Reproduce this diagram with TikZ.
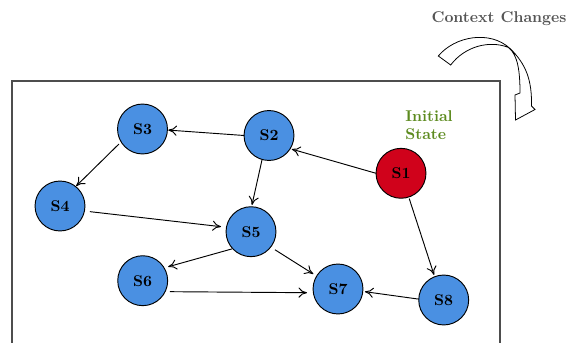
\documentclass[tikz,border=0pt]{standalone}
\usetikzlibrary{arrows.meta}
\definecolor{stateblue}{HTML}{4A90E2}
\definecolor{statered}{HTML}{D0021B}
\definecolor{labelgreen}{HTML}{5C8A1E}
\definecolor{framegray}{HTML}{4D4D4D}
\definecolor{captiongray}{HTML}{555555}
\begin{document}
\begin{tikzpicture}[x=0.641pt,y=-0.641pt,
  state/.style={circle,draw=black,line width=0.6pt,fill=stateblue,
    minimum size=32pt,inner sep=0pt,font=\bfseries},
  startstate/.style={state,fill=statered},
  edge/.style={draw=black,line width=0.6pt,-{To[length=5.5pt,width=6.5pt]}}]
\useasboundingbox (0,0) rectangle (567,343);

% frame around the state graph (open at the bottom)
\draw[framegray,line width=0.7pt] (12,343) -- (12,81) -- (500,81) -- (500,343);

% states
\node[state] (S3) at (142.5,129) {S3};
\node[state] (S2) at (269,135.5) {S2};
\node[state] (S4) at (60,206) {S4};
\node[state] (S5) at (251,231.7) {S5};
\node[state] (S6) at (142.7,280.7) {S6};
\node[startstate] (S1) at (401,173.3) {S1};
\node[state] (S7) at (338,289) {S7};
\node[state] (S8) at (443.7,300) {S8};

% label of the start state
\node[anchor=north west,inner sep=0pt,align=left,text=labelgreen,font=\bfseries]
  (initlabel) at (405,110) {Initial\\State};

% transitions
\draw[edge] ([shift={(180:16pt)}]S2.center) -- ([shift={(-2.4:16.5pt)}]S3.center);
\draw[edge] ([shift={(212.5:17.9pt)}]S3.center) -- ([shift={(51:16.4pt)}]S4.center);
\draw[edge] ([shift={(254:16.3pt)}]S2.center) -- ([shift={(88:17.1pt)}]S5.center);
\draw[edge] ([shift={(-10.7:19.5pt)}]S4.center) -- ([shift={(170.5:19.5pt)}]S5.center);
\draw[edge] ([shift={(222:16.5pt)}]S5.center) -- ([shift={(28.7:18.6pt)}]S6.center);
\draw[edge] ([shift={(-37:19.2pt)}]S5.center) -- ([shift={(148.7:18.5pt)}]S7.center);
\draw[edge] ([shift={(-22:18.8pt)}]S6.center) -- ([shift={(186.8:20pt)}]S7.center);
\draw[edge] ([shift={(180:16pt)}]S1.center) -- ([shift={(-31:17pt)}]S2.center);
\draw[edge] ([shift={(-72:17pt)}]S1.center) -- ([shift={(111:17.2pt)}]S8.center);
\draw[edge] ([shift={(178:16pt)}]S8.center) -- ([shift={(-5.7:17.3pt)}]S7.center);

% caption and hollow, twisted curved arrow
\node[anchor=base,inner sep=0pt,text=captiongray,font=\bfseries]
  (caption) at (499,23) {Context Changes};
\draw[black,line width=0.5pt,fill=white]
  (438.3,56) .. controls (455,36) and (490,30) .. (510,48.5)
  .. controls (526,64) and (532,80) .. (531.5,106)
  -- (535,109.5) -- (515.5,120) -- (515,95) -- (520,93)
  .. controls (520,72) and (518,55) .. (508.5,47.5)
  .. controls (490,40) and (465,46) .. (450.7,65) -- cycle;
\end{tikzpicture}
\end{document}
